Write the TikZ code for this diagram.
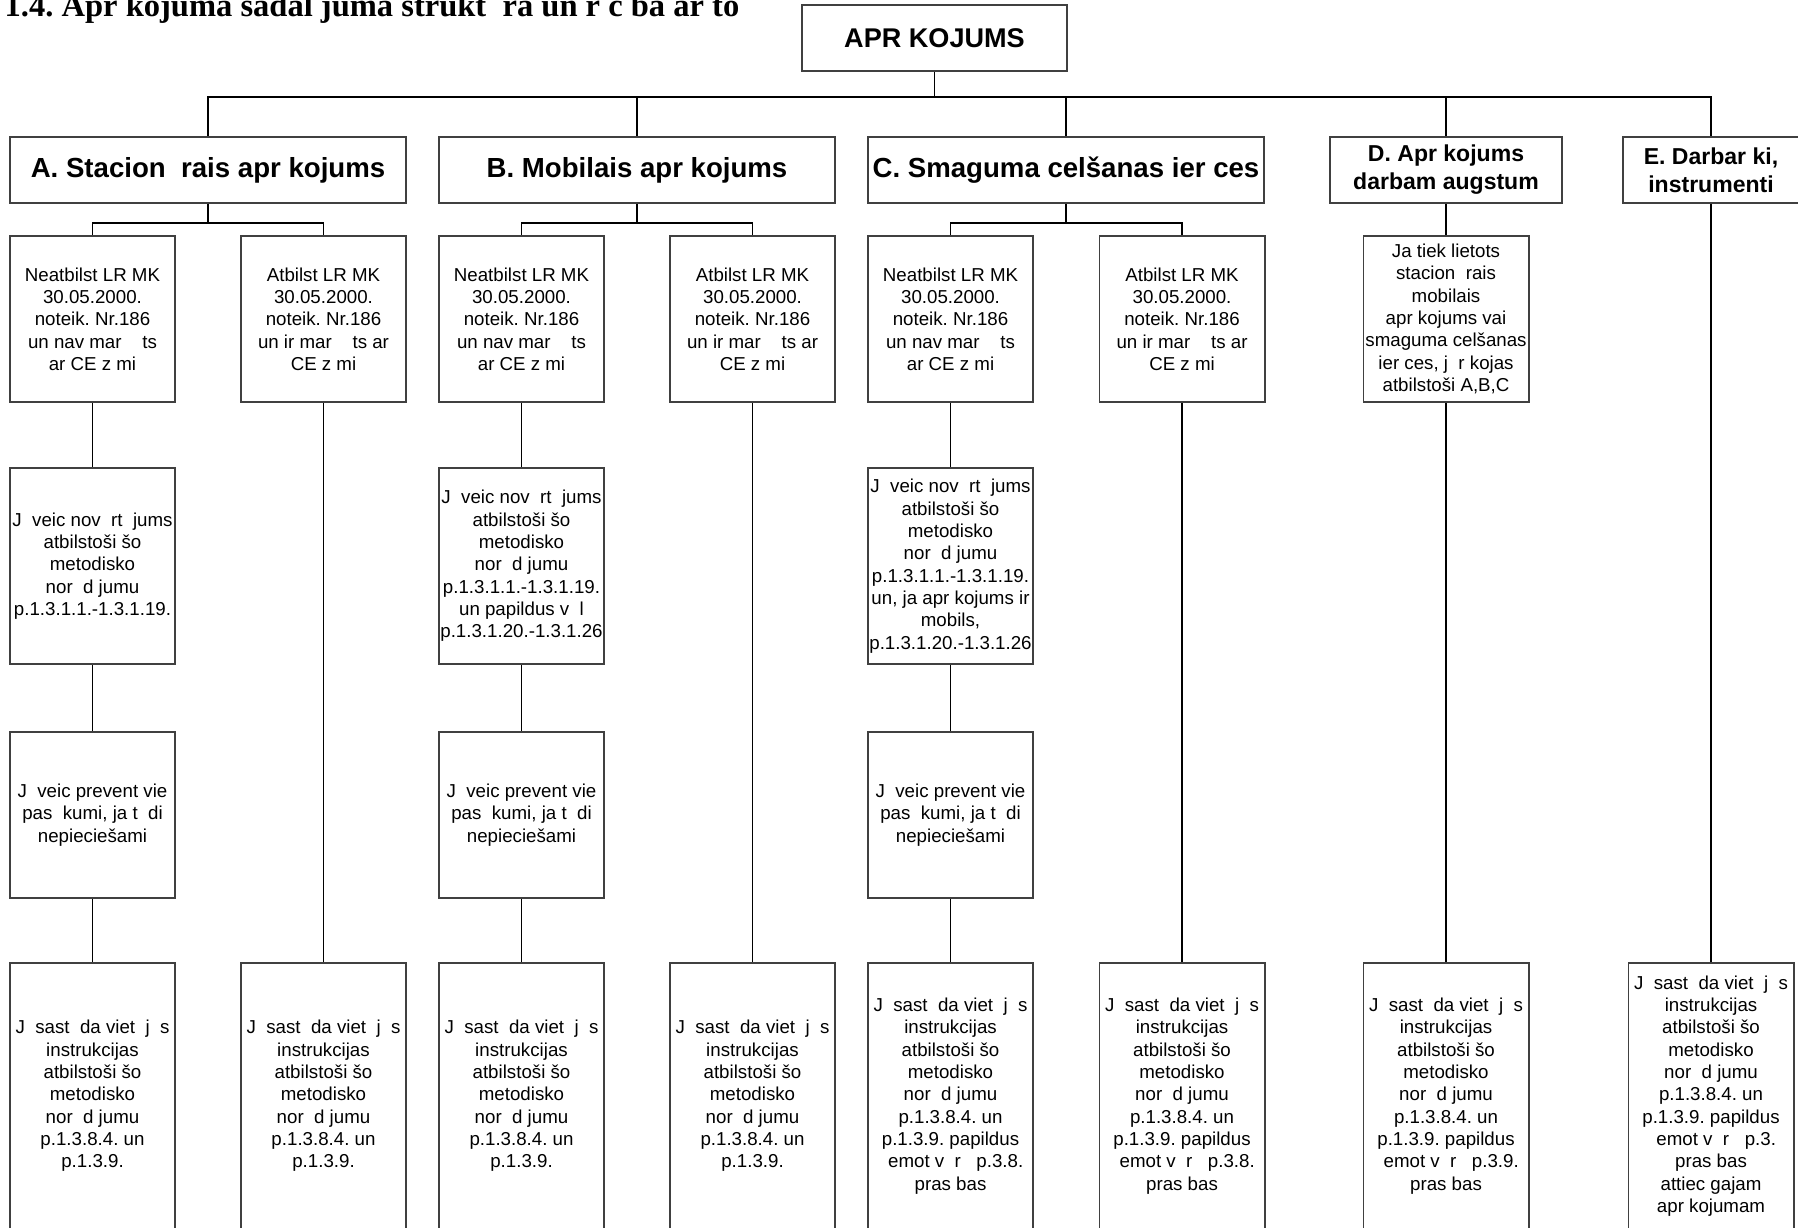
\documentclass[tikz,border=0pt]{standalone}
\usepackage{fontspec}
\setmainfont{Liberation Sans}
\newfontfamily\titleserif{Liberation Serif}
\frenchspacing
\newcommand{\neatbilst}{Neatbilst LR MK\\30.05.2000.\\noteik. Nr.186\\un nav mar~~~~ts\\ar CE z~mi}
\newcommand{\atbilst}{Atbilst LR MK\\30.05.2000.\\noteik. Nr.186\\un ir mar~~~~ts ar\\CE z~mi}
\newcommand{\novert}{J~~veic nov~~rt~~jums\\atbilstoši šo\\metodisko\\nor~~d~jumu\\p.1.3.1.1.-1.3.1.19.}
\newcommand{\prevtxt}{J~~veic prevent~vie\\pas~~kumi, ja t~~di\\nepieciešami}
\newcommand{\instrbase}{J~~sast~~da viet~~j~~s\\instrukcijas\\atbilstoši šo\\metodisko\\nor~~d~jumu\\p.1.3.8.4. un}

\begin{document}
\begin{tikzpicture}[
  x=0.01cm, y=0.01cm,
  box/.style={draw=black!75, line width=0.55pt, fill=white, align=center, inner sep=0.5pt},
  head/.style={box, minimum height=0.66cm, font=\fontsize{7.85pt}{9.4pt}\selectfont\bfseries},
  subhead/.style={box, minimum height=0.66cm, font=\fontsize{6.55pt}{7.97pt}\selectfont\bfseries},
  leaf/.style={box, minimum width=1.65cm, minimum height=#1, font=\fontsize{5.32pt}{6.35pt}\selectfont},
  leaf/.default=1.66cm,
  link/.style={line width=0.4pt, color=black}
]
\useasboundingbox (0,0) rectangle (1798,-1227);

\node[anchor=base west, inner sep=0pt, font=\titleserif\fontsize{9.25pt}{11pt}\selectfont\bfseries] (title) at (4,-17) {1.4. Apr~kojuma sadal~juma strukt~~ra un r~c~ba ar to};

\node[box, minimum width=2.65cm, minimum height=0.66cm, font=\fontsize{7.7pt}{9pt}\selectfont\bfseries] (aprik) at (934.5,-38) {APR~KOJUMS};

\node[head, minimum width=3.96cm] (stac) at (208,-170) {A. Stacion~~rais apr~kojums};
\node[head, minimum width=3.96cm] (mob) at (637,-170) {B. Mobilais apr~kojums};
\node[head, minimum width=3.96cm] (celt) at (1066,-170) {C. Smaguma celšanas ier~ces};
\node[subhead, minimum width=2.32cm] (augst) at (1446,-170) {D. Apr~kojums\\darbam augstum};
\node[subhead, minimum width=1.76cm] (instr) at (1711,-170) {E. Darbar~ki,\\instrumenti};

\node[leaf] (aNe) at (92.5,-319) {\neatbilst};
\node[leaf] (aAt) at (323.5,-319) {\atbilst};
\node[leaf] (bNe) at (521.5,-319) {\neatbilst};
\node[leaf] (bAt) at (752.5,-319) {\atbilst};
\node[leaf] (cNe) at (950.5,-319) {\neatbilst};
\node[leaf] (cAt) at (1182,-319) {\atbilst};
\node[leaf] (dLiet) at (1446,-319) {Ja tiek lietots\\stacion~~rais\\mobilais\\apr~kojums vai\\smaguma celšanas\\ier~ces, j~~r~kojas\\atbilstoši A,B,C};

\node[leaf=1.96cm] (aNov) at (92.5,-566) {\novert};
\node[leaf=1.96cm] (bNov) at (521.5,-566) {\novert\\un papildus v~~l\\p.1.3.1.20.-1.3.1.26};
\node[leaf=1.96cm] (cNov) at (950.5,-566) {\novert\\un, ja apr~kojums ir\\mobils,\\p.1.3.1.20.-1.3.1.26};

\node[leaf] (aPrev) at (92.5,-815) {\prevtxt};
\node[leaf] (bPrev) at (521.5,-815) {\prevtxt};
\node[leaf] (cPrev) at (950.5,-815) {\prevtxt};

\node[leaf=2.66cm] (aIn1) at (92.5,-1096) {\instrbase\\p.1.3.9.};
\node[leaf=2.66cm] (aIn2) at (323.5,-1096) {\instrbase\\p.1.3.9.};
\node[leaf=2.66cm] (bIn1) at (521.5,-1096) {\instrbase\\p.1.3.9.};
\node[leaf=2.66cm] (bIn2) at (752.5,-1096) {\instrbase\\p.1.3.9.};
\node[leaf=2.66cm] (cIn1) at (950.5,-1096) {\instrbase\\p.1.3.9. papildus\\~~emot v~~r~~~p.3.8.\\pras~bas};
\node[leaf=2.66cm] (cIn2) at (1182,-1096) {\instrbase\\p.1.3.9. papildus\\~~emot v~~r~~~p.3.8.\\pras~bas};
\node[leaf=2.66cm] (dIn) at (1446,-1096) {\instrbase\\p.1.3.9. papildus\\~~emot v~~r~~~p.3.9.\\pras~bas};
\node[leaf=2.66cm] (eIn) at (1711,-1096) {\instrbase\\p.1.3.9. papildus\\~~emot v~~r~~~p.3.\\pras~bas\\attiec~gajam\\apr~kojumam};

\draw[link] (aprik.south) -- ++(0,-25) coordinate (hub);
\draw[link] (hub) -| (stac.north);
\draw[link] (hub) -| (mob.north);
\draw[link] (hub) -| (celt.north);
\draw[link] (hub) -| (augst.north);
\draw[link] (hub) -| (instr.north);

\draw[link] (stac.south) -- ++(0,-19) coordinate (hubA);
\draw[link] (hubA) -| (aNe.north);
\draw[link] (hubA) -| (aAt.north);
\draw[link] (mob.south) -- ++(0,-19) coordinate (hubB);
\draw[link] (hubB) -| (bNe.north);
\draw[link] (hubB) -| (bAt.north);
\draw[link] (celt.south) -- ++(0,-19) coordinate (hubC);
\draw[link] (hubC) -| (cNe.north);
\draw[link] (hubC) -| (cAt.north);
\draw[link] (augst) -- (dLiet);
\draw[link] (instr) -- (eIn);

\draw[link] (aNe) -- (aNov);
\draw[link] (aNov) -- (aPrev);
\draw[link] (aPrev) -- (aIn1);
\draw[link] (aAt) -- (aIn2);
\draw[link] (bNe) -- (bNov);
\draw[link] (bNov) -- (bPrev);
\draw[link] (bPrev) -- (bIn1);
\draw[link] (bAt) -- (bIn2);
\draw[link] (cNe) -- (cNov);
\draw[link] (cNov) -- (cPrev);
\draw[link] (cPrev) -- (cIn1);
\draw[link] (cAt) -- (cIn2);
\draw[link] (dLiet) -- (dIn);
\end{tikzpicture}
\end{document}
